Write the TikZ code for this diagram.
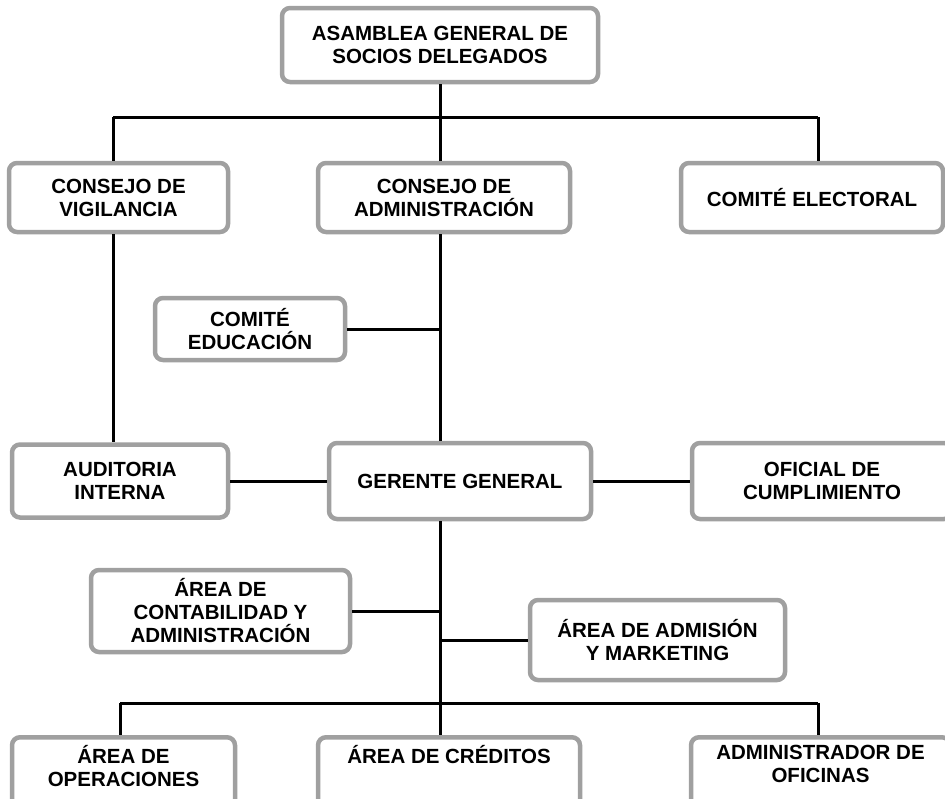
\documentclass[tikz,border=0pt]{standalone}
\usepackage{fontspec}
\setmainfont{Liberation Sans}
\usetikzlibrary{calc}

\definecolor{boxgray}{RGB}{160,160,160}

\tikzset{
  unit/.style={draw=boxgray, line width=4.5pt, rounded corners=8pt, fill=white,
    align=center, inner sep=2pt, font=\fontsize{20.5pt}{23pt}\selectfont\bfseries},
  lowunit/.style={unit, anchor=north, inner ysep=8pt, text depth=50pt},
  link/.style={line width=3pt, black},
}

\begin{document}
\begin{tikzpicture}[x=1pt, y=-1pt]
\useasboundingbox (0,0) rectangle (945,798);

\node[unit, minimum width=316pt, minimum height=74pt] (asamblea) at (440,45) {ASAMBLEA GENERAL DE\\SOCIOS DELEGADOS};

\node[unit, minimum width=219pt, minimum height=69pt] (vigilancia) at (118.5,197.5) {CONSEJO DE\\VIGILANCIA};
\node[unit, minimum width=252pt, minimum height=69pt] (administracion) at (444,197.5) {CONSEJO DE\\ADMINISTRACIÓN};
\node[unit, minimum width=262pt, minimum height=69pt] (electoral) at (812,197.5) {COMITÉ ELECTORAL};

\node[unit, minimum width=190pt, minimum height=62pt] (educacion) at (250,329) {COMITÉ\\EDUCACIÓN};

\node[unit, minimum width=216pt, minimum height=73pt] (auditoria) at (120,481) {AUDITORIA\\INTERNA};
\node[unit, minimum width=262pt, minimum height=76pt] (gerente) at (460,481) {GERENTE GENERAL};
\node[unit, minimum width=260pt, minimum height=76pt] (oficial) at (822,481) {OFICIAL DE\\CUMPLIMIENTO};

\node[unit, minimum width=259pt, minimum height=82pt] (contabilidad) at (220.5,611) {ÁREA DE\\CONTABILIDAD Y\\ADMINISTRACIÓN};
\node[unit, minimum width=255pt, minimum height=80pt] (admision) at (657.5,640) {ÁREA DE ADMISIÓN\\Y MARKETING};

\node[lowunit, minimum width=223pt] (operaciones) at (123.5,735) {ÁREA DE\\OPERACIONES};
\node[lowunit, minimum width=262pt] (creditos) at (449,735) {ÁREA DE CRÉDITOS};
\node[lowunit, minimum width=259pt] (oficinas) at (820.5,735) {ADMINISTRADOR DE\\OFICINAS};

\coordinate (topbus) at (440,117);
\coordinate (busL) at (113,117);
\coordinate (busR) at (818,117);
\coordinate (lowbus) at (440,703);
\coordinate (lowL) at (120,703);
\coordinate (lowR) at (818,703);

\draw[link] (asamblea.south) -- (topbus);
\draw[link] (busL) -- (busR);
\draw[link] (busL) -- (busL |- vigilancia.north);
\draw[link] (topbus) -- (topbus |- administracion.north);
\draw[link] (busR) -- (busR |- electoral.north);

\draw[link] (vigilancia.south -| busL) -- (auditoria.north -| busL);
\draw[link] (administracion.south -| topbus) -- (gerente.north -| topbus);
\draw[link] (educacion.east) -- (educacion.east -| topbus);

\draw[link] (auditoria.east) -- (gerente.west);
\draw[link] (gerente.east) -- (oficial.west);

\draw[link] (gerente.south -| topbus) -- (lowbus);
\draw[link] (contabilidad.east) -- (contabilidad.east -| topbus);
\draw[link] (admision.west) -- (admision.west -| topbus);

\draw[link] (lowL) -- (lowR);
\draw[link] (lowL) -- (lowL |- operaciones.north);
\draw[link] (lowbus) -- (lowbus |- creditos.north);
\draw[link] (lowR) -- (lowR |- oficinas.north);
\end{tikzpicture}
\end{document}
